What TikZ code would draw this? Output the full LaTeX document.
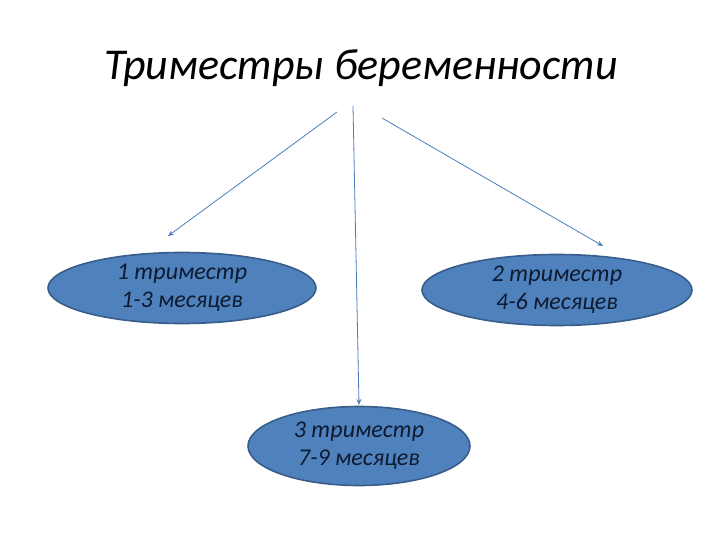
\documentclass[tikz,border=0pt]{standalone}
\usepackage{fontspec}
\setmainfont{Carlito}
\usepackage{tikz}
\usetikzlibrary{shapes.geometric, positioning, arrows.meta}

\definecolor{ovalfill}{HTML}{4F81BD}
\definecolor{ovalline}{HTML}{385D8A}
\definecolor{ovaltext}{HTML}{0E1A30}
\definecolor{arrline}{HTML}{4A7EBB}

\tikzset{
	oval/.style={ellipse, draw=ovalline, fill=ovalfill, line width=1.6pt, inner sep=0pt, align=center, text=ovaltext, font=\itshape\fontsize{24}{28}\selectfont},
	arr/.style={draw=arrline, line width=0.8pt, -{Stealth[length=6pt, width=5pt]}}
}

\begin{document}
\begin{tikzpicture}[x=1pt, y=-1pt]
		
		%//slide frame 720 x 540
		\useasboundingbox (0,0) rectangle (720,540);
		
		\node [font=\itshape\fontsize{44}{52}\selectfont] (title) at (361, 68) {Триместры беременности};
		
		%//the three trimesters
		\foreach \n/\m/\x/\y/\w/\h in {1/1-3/182/288/268/71, 2/4-6/557/290/270/71, 3/7-9/359/446/222/79}
		\node [oval, minimum width=\w pt, minimum height=\h pt] (tri\n) at (\x, \y) {\n\ триместр\\\m\ месяцев};
		
		%//arrow ends
		\coordinate (ls) at (337, 112);
		\coordinate (le) at (168, 236);
		\coordinate (ms) at (353, 106);
		\coordinate (me) at (359, 405);
		\coordinate (rs) at (382, 118);
		\coordinate (re) at (603, 246);
		
		\foreach \a/\b in {ls/le, ms/me, rs/re}
		\draw [arr] (\a) -- (\b);
		
		\end{tikzpicture}
\end{document}
